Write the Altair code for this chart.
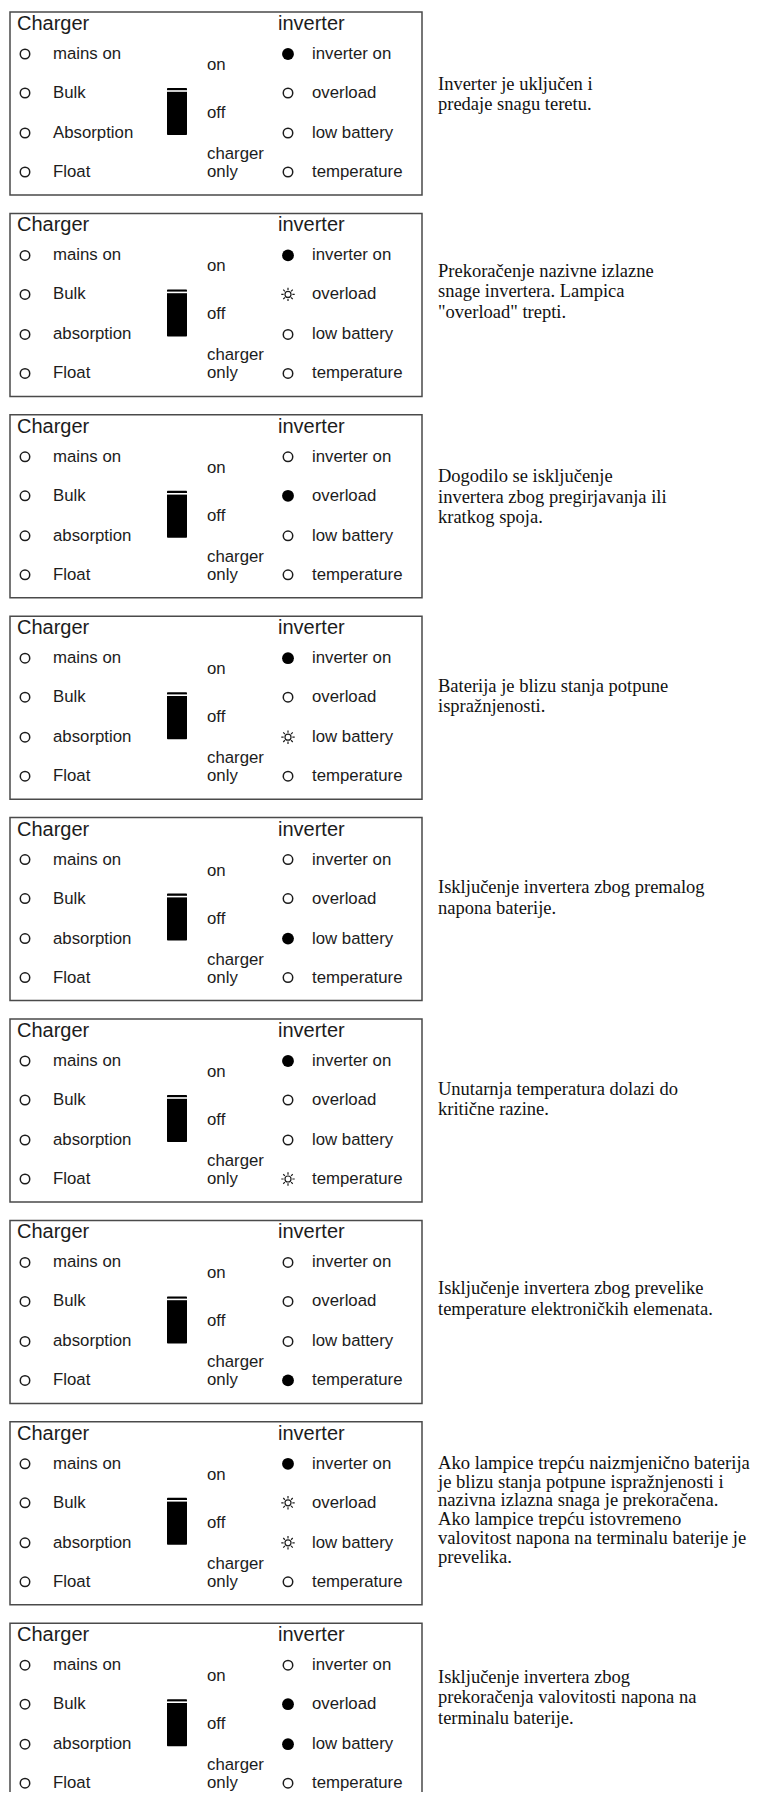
import altair as alt
import pandas as pd

# ---------------- data ----------------
charger_labels = ["mains on", "Bulk", "absorption", "Float"]
absorption_variant = ["Absorption", "absorption", "absorption", "absorption", "absorption",
                      "absorption", "absorption", "absorption", "absorption"]
inverter_labels = ["inverter on", "overload", "low battery", "temperature"]
switch_labels = ["on", "off", "charger", "only"]
header_left = "Charger"
header_right = "inverter"

# state of inverter lamps per panel: off / on / blink
inverter_states = [
    ["on", "off", "off", "off"],
    ["on", "blink", "off", "off"],
    ["off", "on", "off", "off"],
    ["on", "off", "blink", "off"],
    ["off", "off", "on", "off"],
    ["on", "off", "off", "blink"],
    ["off", "off", "off", "on"],
    ["on", "blink", "blink", "off"],
    ["off", "on", "on", "off"],
]

descriptions = [
    ["Inverter je uključen i", "predaje snagu teretu."],
    ["Prekoračenje nazivne izlazne", "snage invertera. Lampica", "\"overload\" trepti."],
    ["Dogodilo se isključenje", "invertera zbog pregirjavanja ili", "kratkog spoja."],
    ["Baterija je blizu stanja potpune", "ispražnjenosti."],
    ["Isključenje invertera zbog premalog", "napona baterije."],
    ["Unutarnja temperatura dolazi do", "kritične razine."],
    ["Isključenje invertera zbog prevelike", "temperature elektroničkih elemenata."],
    ["Ako lampice trepću naizmjenično baterija", "je blizu stanja potpune ispražnjenosti i",
     "nazivna izlazna snaga je prekoračena.", "Ako lampice trepću istovremeno",
     "valovitost napona na terminalu baterije je", "prevelika."],
    ["Isključenje invertera zbog", "prekoračenja valovitosti napona na", "terminalu baterije."],
]

# ---------------- layout (page pixels) ----------------
W, H = 748, 1784
M = 8
PANEL_TOP0 = 12
PITCH = 201.4
PANEL_H = 183
BOX_L, BOX_R = 10, 422
HDR_DY = 12
ROW_DY = [42, 81, 121, 160]
SW_LABEL_DY = [53, 101, 142, 160]
SW_X1, SW_X2 = 167, 187
SW_Y1, SW_Y2 = 76, 123
SW_LINE_DY = 79
X_LEFT_HDR, X_LEFT_DOT, X_LEFT_LBL = 17, 25, 53
X_SW_LBL = 207
X_RIGHT_HDR, X_RIGHT_DOT, X_RIGHT_LBL = 278, 288, 312
X_DESC = 438
DESC_LH = [20.5, 20.5, 20.5, 20.5, 20.5, 20.5, 20.5, 18.8, 20.5]
DESC_FS = [18.5, 18.5, 18.5, 18.5, 18.5, 18.5, 18.5, 18.6, 18.5]
DESC_CENTER_DY = [82, 78, 82, 80, 80, 80, 78, 88, 74]


def px(v):
    return v - M


boxes, sws, swlines = [], [], []
hdr, lbl, hollow, filled, sun, desc = [], [], [], [], [], []
for i in range(len(inverter_states)):
    T = PANEL_TOP0 + i * PITCH
    boxes.append(dict(x=px(BOX_L), x2=px(BOX_R), y=px(T), y2=px(T + PANEL_H)))
    sws.append(dict(x=px(SW_X1), x2=px(SW_X2), y=px(T + SW_Y1), y2=px(T + SW_Y2)))
    swlines.append(dict(x=px(SW_X1), x2=px(SW_X2), y=px(T + SW_LINE_DY)))
    hdr.append(dict(x=px(X_LEFT_HDR), y=px(T + HDR_DY), t=header_left))
    hdr.append(dict(x=px(X_RIGHT_HDR), y=px(T + HDR_DY), t=header_right))
    for k in range(4):
        name = charger_labels[k] if k != 2 else absorption_variant[i]
        lbl.append(dict(x=px(X_LEFT_LBL), y=px(T + ROW_DY[k]), t=name))
        hollow.append(dict(x=px(X_LEFT_DOT), y=px(T + ROW_DY[k])))
        lbl.append(dict(x=px(X_SW_LBL), y=px(T + SW_LABEL_DY[k]), t=switch_labels[k]))
        lbl.append(dict(x=px(X_RIGHT_LBL), y=px(T + ROW_DY[k]), t=inverter_labels[k]))
        st = inverter_states[i][k]
        pt = dict(x=px(X_RIGHT_DOT), y=px(T + ROW_DY[k]))
        {"off": hollow, "on": filled, "blink": sun}[st].append(pt)
    lines = descriptions[i]
    n = len(lines)
    for j, line in enumerate(lines):
        yy = T + DESC_CENTER_DY[i] + (j - (n - 1) / 2) * DESC_LH[i]
        desc.append(dict(x=px(X_DESC), y=px(yy), t=line, fs=DESC_FS[i]))

xs = alt.Scale(domain=[0, W], range=[0, W], nice=False, zero=False)
ys = alt.Scale(domain=[0, H], range=[0, H], nice=False, zero=False)


def X(f="x"):
    return alt.X(f"{f}:Q", scale=xs, axis=None)


def Y(f="y"):
    return alt.Y(f"{f}:Q", scale=ys, axis=None)


SANS = "Liberation Sans, Arial, Helvetica, sans-serif"
SERIF = "Liberation Serif, Times New Roman, serif"
INK = "#1c1c1c"

box_layer = alt.Chart(pd.DataFrame(boxes)).mark_rect(
    fillOpacity=0, stroke="#4a4a4a", strokeWidth=1.5
).encode(x=X(), x2="x2:Q", y=Y(), y2="y2:Q")

sw_layer = alt.Chart(pd.DataFrame(sws)).mark_rect(color="#000", cornerRadius=1).encode(
    x=X(), x2="x2:Q", y=Y(), y2="y2:Q")

swline_layer = alt.Chart(pd.DataFrame(swlines)).mark_rule(color="#fff", strokeWidth=1.6).encode(
    x=X(), x2="x2:Q", y=Y())

hdr_layer = alt.Chart(pd.DataFrame(hdr)).mark_text(
    align="left", baseline="middle", font=SANS, fontSize=20, color=INK
).encode(x=X(), y=Y(), text="t:N")

lbl_layer = alt.Chart(pd.DataFrame(lbl)).mark_text(
    align="left", baseline="middle", font=SANS, fontSize=16.8, color=INK
).encode(x=X(), y=Y(), text="t:N")

hollow_layer = alt.Chart(pd.DataFrame(hollow)).mark_point(
    shape="circle", filled=False, size=90, stroke=INK, strokeWidth=1.5, opacity=1
).encode(x=X(), y=Y())

filled_layer = alt.Chart(pd.DataFrame(filled)).mark_point(
    shape="circle", filled=True, size=140, color="#000", opacity=1
).encode(x=X(), y=Y())

SUN = ("M0.45,0 A0.45,0.45 0 1,0 -0.45,0 A0.45,0.45 0 1,0 0.45,0 Z "
       "M0.65,0 L1,0 M-0.65,0 L-1,0 M0,0.65 L0,1 M0,-0.65 L0,-1 "
       "M0.46,0.46 L0.71,0.71 M-0.46,0.46 L-0.71,0.71 "
       "M0.46,-0.46 L0.71,-0.71 M-0.46,-0.46 L-0.71,-0.71")
sun_layer = alt.Chart(pd.DataFrame(sun)).mark_point(
    shape=SUN, filled=False, size=180, stroke=INK, strokeWidth=1.2, opacity=1
).encode(x=X(), y=Y())

desc_layer = alt.Chart(pd.DataFrame(desc)).mark_text(
    align="left", baseline="middle", font=SERIF, color="#111"
).encode(x=X(), y=Y(), text="t:N",
         size=alt.Size("fs:Q", scale=None, legend=None))

chart = alt.layer(
    box_layer, sw_layer, swline_layer, hdr_layer, lbl_layer,
    hollow_layer, filled_layer, sun_layer, desc_layer
).properties(
    width=W, height=H, autosize=alt.AutoSizeParams(type="none"), padding=0
).configure_view(stroke=None)

chart.save("out.html", embed_options={"renderer": "svg", "actions": False})
